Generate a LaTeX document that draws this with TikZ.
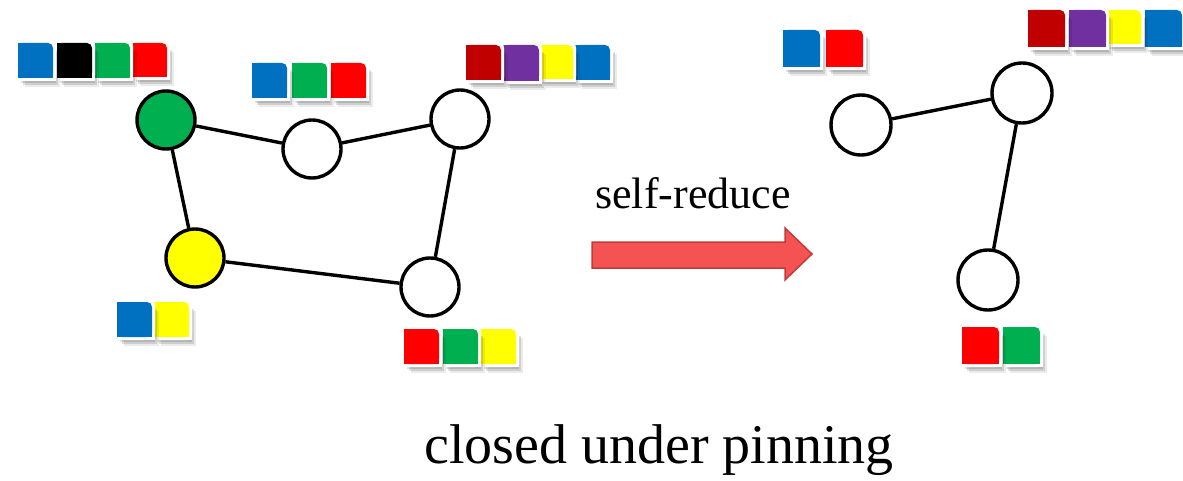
\documentclass[tikz,border=0pt]{standalone}
\usepackage{fontspec}
\setmainfont{Liberation Serif}
\definecolor{tblue}{HTML}{0070C0}
\definecolor{tgreen}{HTML}{00B050}
\definecolor{tred}{HTML}{FF0000}
\definecolor{tdred}{HTML}{C00000}
\definecolor{tpurple}{HTML}{7030A0}
\definecolor{tyellow}{HTML}{FFFF00}
\definecolor{tblack}{HTML}{000000}
\definecolor{arrfill}{HTML}{F55252}
\definecolor{arrdraw}{HTML}{C23B3B}
\tikzset{
  vtx/.style={circle, draw=black, line width=3.4pt, inner sep=0pt, minimum size=58pt, fill=white},
  bigvtx/.style={vtx, minimum size=60pt},
  edge/.style={line width=3.4pt},
  lbl/.style={anchor=base, inner sep=0pt},
  pics/tile/.style 2 args={code={
    \foreach \o/\op in {2/0.10,4/0.12,6/0.12,8/0.08}{
      \fill[black,opacity=\op] (\o-1,\o+1) rectangle ++(#2,#2);}
    \fill[white, rounded corners=6pt] (-3,-3) rectangle ++(#2+6,#2+6);
    \fill[white] (-3,8) rectangle ++(#2+6,#2-5);
    \fill[white] (-3,-3) rectangle ++(#2-5,#2+6);
    \fill[#1, rounded corners=5pt] (0,0) rectangle ++(#2,#2);
    \fill[#1] (0,7) rectangle ++(#2,#2-7);
    \fill[#1] (0,0) rectangle ++(#2-7,#2);
  }}
}
\begin{document}
\begin{tikzpicture}[x=1pt,y=-1pt]
\useasboundingbox (0,0) rectangle (1183,481);
\fill[white] (0,0) rectangle (1183,481);

% tiles (drawn right to left so shadows fall on the next tile)
\pic at (133,43) {tile={tred}{34}};
\pic at (95,43) {tile={tgreen}{35}};
\pic at (57,43) {tile={tblack}{35}};
\pic at (18,43) {tile={tblue}{35}};

\pic at (331,63) {tile={tred}{35}};
\pic at (292,63) {tile={tgreen}{35}};
\pic at (252,63) {tile={tblue}{35}};

\pic at (575,45) {tile={tblue}{35}};
\pic at (539,45) {tile={tyellow}{34}};
\pic at (503,45) {tile={tpurple}{36}};
\pic at (466,45) {tile={tdred}{35}};

\pic at (154,302) {tile={tyellow}{35}};
\pic at (117,302) {tile={tblue}{35}};

\pic at (481,329) {tile={tyellow}{35}};
\pic at (443,329) {tile={tgreen}{35}};
\pic at (404,329) {tile={tred}{35}};

\pic at (826,30) {tile={tred}{37}};
\pic at (783,30) {tile={tblue}{37}};

\pic at (1145,10) {tile={tblue}{37}};
\pic at (1107,10) {tile={tyellow}{34}};
\pic at (1069,10) {tile={tpurple}{37}};
\pic at (1028,10) {tile={tdred}{37}};

\pic at (1003,327) {tile={tgreen}{37}};
\pic at (962,327) {tile={tred}{37}};

% left graph
\node[vtx, fill=tgreen] (g) at (166,120) {};
\node[vtx] (m) at (312,149) {};
\node[vtx] (tr) at (460,119) {};
\node[vtx, fill=tyellow] (y) at (195,258) {};
\node[vtx] (br) at (430,287) {};
\draw[edge] (g) -- (m);
\draw[edge] (m) -- (tr);
\draw[edge] (g) -- (y);
\draw[edge] (y) -- (br);
\draw[edge] (tr) -- (br);

% right graph
\node[bigvtx] (l) at (861,125) {};
\node[bigvtx] (t) at (1022,93) {};
\node[bigvtx] (b) at (988,280) {};
\draw[edge] (l) -- (t);
\draw[edge] (t) -- (b);

% arrow
\coordinate (a1) at (592,242);
\coordinate (a2) at (785,242);
\coordinate (a3) at (785,228);
\coordinate (a4) at (812,254);
\coordinate (a5) at (785,280);
\coordinate (a6) at (785,268);
\coordinate (a7) at (592,268);
\draw[fill=arrfill, draw=arrdraw, line width=1.5pt, line join=miter]
  (a1) -- (a2) -- (a3) -- (a4) -- (a5) -- (a6) -- (a7) -- cycle;

\node[lbl, font=\fontsize{44}{50}\selectfont] (sr) at (693,209) {self-reduce};
\node[lbl, font=\fontsize{56}{64}\selectfont] (cap) at (659,463) {closed under pinning};
\end{tikzpicture}
\end{document}
